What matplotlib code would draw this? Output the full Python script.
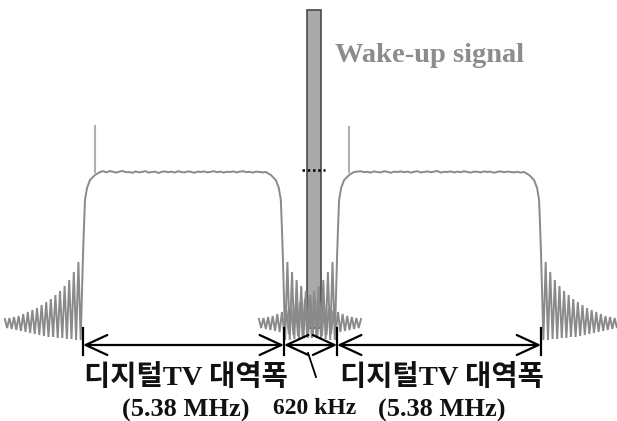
import numpy as np
import matplotlib.pyplot as plt

# ---------------- data (frequency in MHz on display axis, level in dB rel. flat top) -------------
band_edges = [(0.0, 5.30), (6.74, 12.15)]           # two digital TV channels
arrow_marks = [0.0, 5.33, 6.74, 12.15]              # dimension-line ticks
band_labels = ["디지털TV 대역폭", "디지털TV 대역폭"]
band_width_labels = ["(5.38 MHz)", "(5.38 MHz)"]
gap_label = "620 kHz"
wake_label = "Wake-up signal"

pilot_offset = 0.31                                  # MHz from lower band edge
pilot_top = [11.5, 11.25]                            # dB

wake_center = 6.125
wake_width = 0.37
wake_top = 40.5
wake_bottom = -39.0

# roll-off shape at band edge (offset into band, MHz -> level dB)
rolloff_offset = [0.0, 0.027, 0.053, 0.106, 0.186, 0.318, 0.45]
rolloff_level = [-20.75, -13.25, -7.0, -4.0, -2.0, -0.75, 0.0]

# side-lobe peaks / troughs going away from the band edge (dB)
lobe_spacing = 0.122
lobe_peaks = [-22.5, -25, -27, -28.5, -29.75, -30.75, -31.75, -32.5, -33.25,
              -34, -34.5, -35, -35.5, -36, -36.25, -36.5, -36.75]
lobe_troughs = [-42, -42, -41.75, -41.75, -41.5, -41.5, -41.25, -41.25, -41,
                -40.75, -40.5, -40.25, -40, -39.75, -39.5, -39.25, -39]

# in-band ripple read from the flat tops (dB)
ripple = [
    [0.2, -0.1, 0.25, 0.05, -0.15, 0.1, 0.25, -0.05, 0.0, -0.2, 0.15, -0.1, 0.05, 0.2, -0.15,
     0.0, 0.1, -0.25, 0.05, 0.15, -0.05, 0.1, -0.15, 0.2, 0.0, -0.1, 0.15, 0.05, -0.2, 0.1,
     0.0, 0.15, -0.1, 0.05, 0.2, -0.05, 0.1, -0.15, 0.05, 0.0, 0.15, -0.1, 0.1, 0.2, -0.05,
     0.05, -0.15, 0.1, 0.0, -0.1],
    [0.1, 0.2, -0.05, 0.05, -0.15, 0.15, 0.0, -0.1, 0.2, 0.05, -0.2, 0.1, 0.0, 0.15, -0.05,
     0.1, -0.15, 0.05, 0.2, -0.1, 0.0, 0.15, -0.05, 0.1, 0.25, -0.15, 0.05, 0.0, 0.15, -0.1,
     0.1, -0.05, 0.2, 0.0, -0.15, 0.1, 0.05, -0.1, 0.15, 0.0, 0.1, -0.2, 0.05, 0.15, -0.05,
     0.1, 0.0, -0.1, 0.05, -0.15],
]


def band_trace(lo, hi, noise):
    xs, ys = [], []
    n = len(lobe_peaks)
    for k in range(n, 0, -1):
        xs += [lo - k * lobe_spacing, lo - (k - 0.5) * lobe_spacing]
        ys += [lobe_peaks[k - 1], lobe_troughs[k - 1]]
    xs += [lo + o for o in rolloff_offset]
    ys += rolloff_level
    fx = np.linspace(lo + rolloff_offset[-1], hi - rolloff_offset[-1], len(noise) + 2)[1:-1]
    xs += list(fx)
    ys += noise
    xs += [hi - o for o in reversed(rolloff_offset)]
    ys += list(reversed(rolloff_level))
    for k in range(1, n + 1):
        xs += [hi + (k - 0.5) * lobe_spacing, hi + k * lobe_spacing]
        ys += [lobe_troughs[k - 1], lobe_peaks[k - 1]]
    return xs, ys


fig = plt.figure(figsize=(6.17, 4.21), dpi=100)
ax = fig.add_axes([0, 0, 1, 1])
ax.set_xlim(-2.2016, 14.164)
ax.set_ylim(-62.25, 43)
ax.axis("off")

# wake-up signal bar
ax.bar([wake_center], [wake_top - wake_bottom], bottom=[wake_bottom], width=wake_width,
       color="#a9a9a9", edgecolor="#4a4a4a", linewidth=1.2, zorder=1)

# spectra
for (lo, hi), noise, ptop in zip(band_edges, ripple, pilot_top):
    xs, ys = band_trace(lo, hi, noise)
    ax.plot(xs, ys, color="#8a8a8a", lw=1.4, zorder=2, solid_joinstyle="miter")
    ax.plot([lo + pilot_offset, lo + pilot_offset], [0, ptop], color="#b0b0b0", lw=1.5, zorder=2)

# dotted reference at flat level across the bar
ax.plot([wake_center - 0.32, wake_center + 0.30], [0.5, 0.5], color="black", lw=1.8,
        linestyle=(0, (1, 1.1)), zorder=3)

# dimension lines
y_arrow = -43.25
for a, b in zip(arrow_marks[:-1], arrow_marks[1:]):
    ax.annotate("", xy=(b, y_arrow), xytext=(a, y_arrow),
                arrowprops=dict(arrowstyle="<->,head_length=1.3,head_width=0.6",
                                color="black", lw=1.6, mutation_scale=12,
                                shrinkA=0, shrinkB=0), zorder=4)
for m in arrow_marks:
    ax.plot([m, m], [-39.0, -45.75], color="black", lw=1.6, zorder=4)

# leader to gap label
ax.plot([5.97, 6.18], [-45.25, -51.25], color="black", lw=1.3)

# texts
ax.text(6.68, 29.25, wake_label, color="#8c8c8c", fontsize=20.5, fontweight="bold",
        family="Liberation Serif", ha="left", va="center")
for (lo, hi), lab, wl in zip(band_edges, band_labels, band_width_labels):
    c = (lo + hi) / 2
    ax.text(c + 0.07, -51.5, lab, fontsize=20.5, fontweight="bold",
            family=["Liberation Serif", "Noto Sans CJK KR"],
            ha="center", va="center", color="#111111")
    ax.text(c + 0.07, -59.5, wl, fontsize=19, fontweight="bold", family="Liberation Serif",
            ha="center", va="center", color="#111111")
ax.text(6.156, -59.0, gap_label, fontsize=17, fontweight="bold", family="Liberation Serif",
        ha="center", va="center", color="#111111")

fig.savefig("out.png", dpi=100)
